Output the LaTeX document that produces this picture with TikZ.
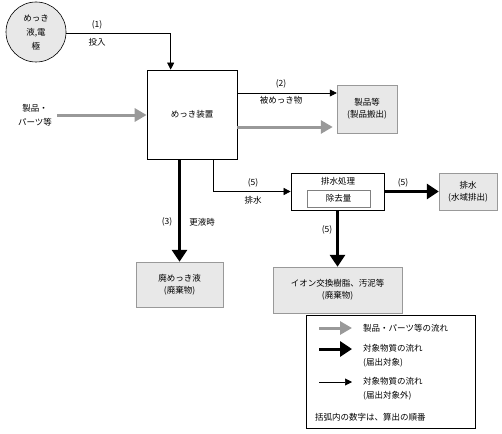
\documentclass[tikz,border=0pt]{standalone}
\usepackage{fontspec}
\setmainfont{Noto Sans CJK JP}
\usetikzlibrary{arrows.meta}
\tikzset{
  every node/.style={font=\fontsize{8.5}{12}\selectfont, inner sep=0pt},
  plainbox/.style={draw=black, line width=0.7pt, fill=white, align=center},
  outbox/.style={draw=black!40, line width=0.5pt, fill=black!9, align=center},
  thinarr/.style={draw=black, line width=0.6pt, -{Triangle[length=7pt,width=7pt]}},
  thickarr/.style={draw=black, line width=3pt, -{Triangle[length=12pt,width=15pt]}},
  grayarr/.style={draw=black!40, line width=3pt, -{Triangle[length=12pt,width=13pt]}},
  lbl/.style={align=center}
}
\begin{document}
\begin{tikzpicture}[x=1pt,y=-1pt]
\useasboundingbox (0,0) rectangle (502,433);
% nodes
\node[circle, draw=black, line width=0.6pt, fill=black!9, minimum size=60pt, align=center, font=\fontsize{8.5}{14}\selectfont] (circ) at (36,32) {めっき\\液,電\\極};
\node[plainbox, minimum width=90pt, minimum height=89pt] (main) at (192,114.5) {めっき装置};
\node[lbl, font=\fontsize{8.5}{14}\selectfont] (prodin) at (35,115) {製品・\\パーツ等};
\node[outbox, minimum width=60pt, minimum height=48pt] (prod) at (367,109) {製品等\\(製品搬出)};
\node[plainbox, minimum width=93pt, minimum height=37pt] (ts) at (337.5,191.5) {};
\node (tstitle) at (338,181) {排水処理};
\node[draw=black!50, line width=0.5pt, fill=white, minimum width=63pt, minimum height=17pt] (inner) at (338.5,198.5) {除去量};
\node[outbox, minimum width=58pt, minimum height=37pt] (drain) at (468,191.5) {排水\\(水域排出)};
\node[outbox, minimum width=129pt, minimum height=46pt] (resin) at (337.5,290) {イオン交換樹脂、汚泥等\\(廃棄物)};
\node[outbox, minimum width=87pt, minimum height=45pt] (waste) at (179.5,284.5) {廃めっき液\\(廃棄物)};
% connectors
\draw[thinarr] (circ.east |- 0,33) -| ([xshift=24pt]main.north west);
\node (l1a) at (97,25) {(1)};
\node (l1b) at (97,42) {投入};
\draw[grayarr] (prodin.east |- 0,115) ++(5,0) -- (main.west |- 0,115);
\draw[thinarr] (main.east |- 0,93) -- (prod.west |- 0,93);
\node (l2a) at (281,84) {(2)};
\node (l2b) at (281,100) {被めっき物};
\draw[grayarr] (main.east |- 0,127) -- ([xshift=-4pt]prod.west |- 0,127);
\draw[thinarr] (main.south -| 213,0) |- (ts.west);
\node (l5a) at (253,183) {(5)};
\node (l5b) at (253,200) {排水};
\draw[thickarr] (ts.east) -- (drain.west);
\node (l5c) at (403,183) {(5)};
\draw[thickarr] (ts.south) -- (resin.north);
\node (l5d) at (327,230) {(5)};
\draw[thickarr] (main.south -| waste.north) -- (waste.north);
\node (l3a) at (167,222) {(3)};
\node (l3b) at (202,222) {更液時};
% legend
\node[draw=black, line width=0.6pt, minimum width=169pt, minimum height=113pt] (leg) at (390.5,371.5) {};
\coordinate (g1) at (319,328); \coordinate (g2) at (352,328);
\coordinate (k1) at (319,349); \coordinate (k2) at (352,349);
\coordinate (t1) at (319,382); \coordinate (t2) at (352,382);
\draw[grayarr] (g1) -- (g2);
\draw[thickarr] (k1) -- (k2);
\draw[thinarr] (t1) -- (t2);
\node[anchor=west] (lg1) at (363,328) {製品・パーツ等の流れ};
\node[anchor=west, align=left, font=\fontsize{8.5}{14}\selectfont] (lg2) at (363,356) {対象物質の流れ\\(届出対象)};
\node[anchor=west, align=left, font=\fontsize{8.5}{14}\selectfont] (lg3) at (363,389) {対象物質の流れ\\(届出対象外)};
\node[anchor=west] (lg4) at (315,417) {括弧内の数字は、算出の順番};
\end{tikzpicture}
\end{document}
